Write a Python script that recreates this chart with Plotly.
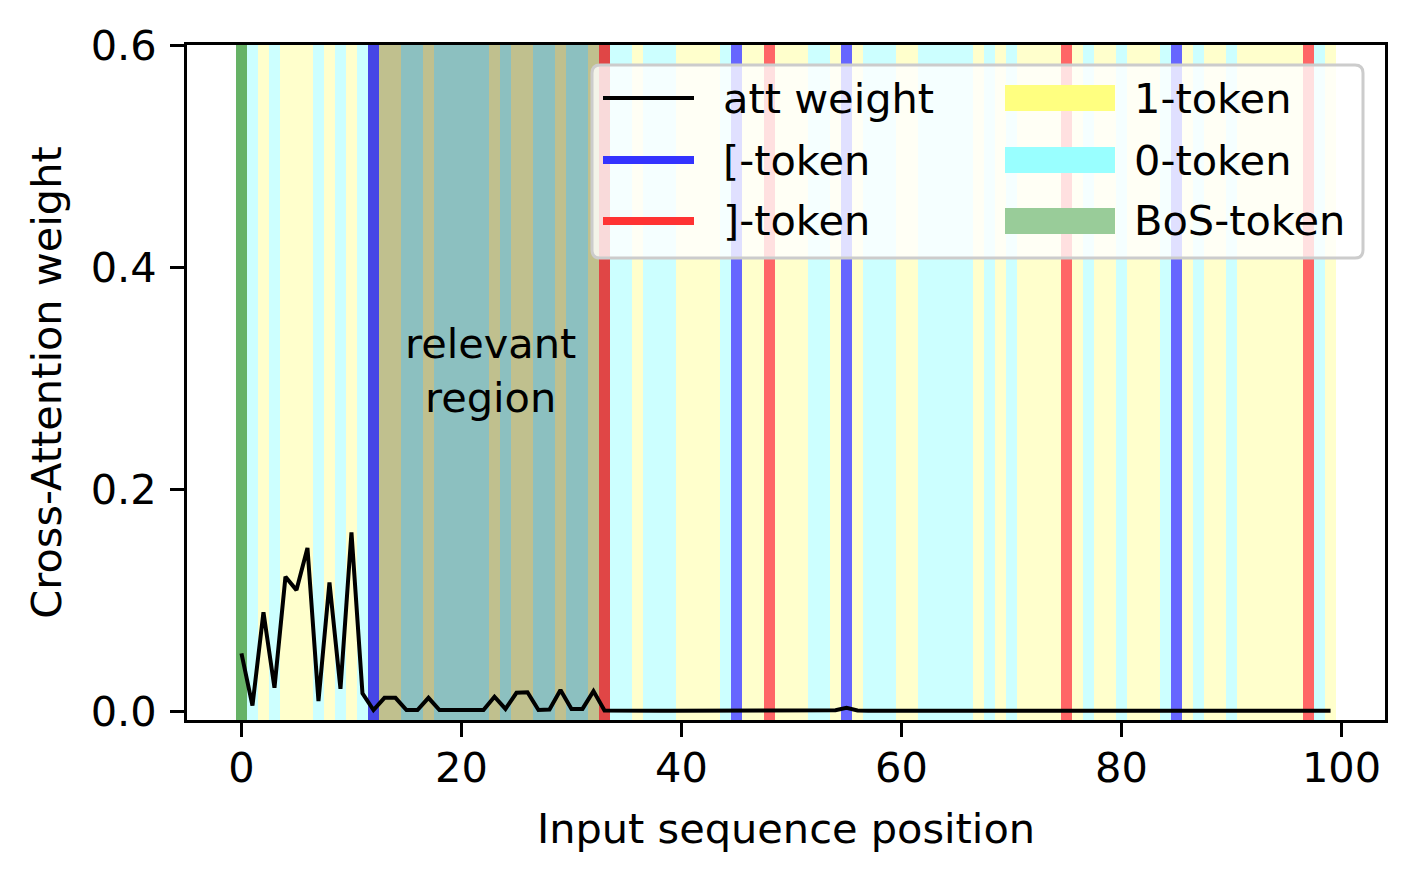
import plotly.graph_objects as go

# ---------------- data ----------------
positions = list(range(100))
tokens = (
    ["B", "0", "1", "0", "1", "1", "1", "0", "1", "0", "1", "0", "[",
     "1", "1", "0", "0", "1", "0", "0", "0", "0", "0", "1", "0", "1", "1",
     "0", "0", "1", "0", "0", "1", "]",
     "0", "0", "1", "0", "0", "0", "1", "1", "1", "1", "0", "[", "1", "1", "]",
     "1", "1", "1", "0", "0", "1", "[", "1", "0", "0", "0", "1", "1",
     "0", "0", "0", "0", "0", "1", "0", "1", "0", "1", "1", "1", "1", "]",
     "1", "0", "1", "1", "0", "1", "1", "1", "0", "[", "1", "0", "1", "1", "0",
     "1", "1", "1", "1", "1", "1", "]", "0", "1"]
)
att_weight = [
    0.052, 0.005, 0.089, 0.021, 0.121, 0.109, 0.147, 0.009, 0.116, 0.020,
    0.161, 0.016, 0.001, 0.012, 0.012, 0.001, 0.001, 0.012, 0.001, 0.001,
    0.001, 0.0015, 0.001, 0.013, 0.002, 0.0165, 0.017, 0.001, 0.0015, 0.019,
    0.002, 0.002, 0.018, 0.0005, 0.0003, 0.0003, 0.0003, 0.0003, 0.0003, 0.0003,
    0.0003, 0.0003, 0.0003, 0.0003, 0.0004, 0.0012, 0.0004, 0.0004, 0.0012, 0.0004,
    0.0003, 0.0003, 0.0003, 0.0004, 0.0008, 0.003, 0.0005, 0.0003, 0.0003, 0.0003,
    0.0003, 0.0003, 0.0003, 0.0003, 0.0003, 0.0003, 0.0003, 0.0003, 0.0003, 0.0003,
    0.0003, 0.0003, 0.0003, 0.0003, 0.0003, 0.0003, 0.0003, 0.0003, 0.0003, 0.0003,
    0.0003, 0.0003, 0.0003, 0.0003, 0.0003, 0.0003, 0.0003, 0.0003, 0.0003, 0.0003,
    0.0003, 0.0003, 0.0003, 0.0003, 0.0003, 0.0003, 0.0003, 0.0003, 0.0003, 0.0003,
]
region_start, region_end = 11.9, 33.0
region_label = "relevant<br>region"
region_label_x, region_label_y = 22.6, 0.307

x_ticks = [0, 20, 40, 60, 80, 100]
y_ticks = [0.0, 0.2, 0.4, 0.6]
y_tick_text = ["0.0", "0.2", "0.4", "0.6"]
x_range = [-4.95, 103.95]
y_range = [-0.008, 0.6]

legend_lines = [("att weight", "black", 4.2), ("[-token", "#3333FF", 8), ("]-token", "#FF3333", 8)]
legend_patches = [("1-token", "#FFFF80"), ("0-token", "#99FFFF"), ("BoS-token", "#99CC99")]

# ---------------- styles ----------------
base_colors = {"B": "#66B266", "0": "#CCFFFF", "1": "#FFFFCC", "[": "#6666FF", "]": "#FF6666"}
region_colors = {"B": "#4C9A4C", "0": "#8CC0C0", "1": "#C0C08E", "[": "#4646E6", "]": "#E04646"}

FONT = "DejaVu Sans"
FS = 41.5

# page has an 8px body margin; the figure is sized so it fits the window
FIG_W, FIG_H = 1406, 873
ML, MT, MR, MB = 179, 37, 29, 161

bar_colors = []
for p, t in zip(positions, tokens):
    if region_start <= p <= region_end:
        bar_colors.append(region_colors[t])
    else:
        bar_colors.append(base_colors[t])

fig = go.Figure()
fig.add_trace(go.Bar(
    x=positions,
    y=[y_range[1] - y_range[0]] * len(positions),
    base=y_range[0],
    width=1.0,
    marker=dict(color=bar_colors, line=dict(width=0)),
    showlegend=False,
    hoverinfo="skip",
))
fig.add_trace(go.Scatter(
    x=positions, y=att_weight, mode="lines",
    line=dict(color="black", width=4),
    showlegend=False, name="att weight",
))

fig.add_annotation(x=region_label_x, y=region_label_y, text=region_label,
                   showarrow=False, font=dict(family=FONT, size=FS, color="black"),
                   xanchor="center", yanchor="middle", align="center")

# ---------------- manual legend (positions in reference-image pixels) ----------------
W = FIG_W - ML - MR
H = FIG_H - MT - MB
def px(xpix):
    return (xpix - (ML + 8)) / W
def py(ypix):
    return 1 - (ypix - (MT + 8)) / H

x0, x1, y0, y1 = px(592), px(1363), py(258), py(65)
rx, ry = 8 / W, 8 / H
path = (f"M {x0+rx},{y0} L {x1-rx},{y0} Q {x1},{y0} {x1},{y0+ry} "
        f"L {x1},{y1-ry} Q {x1},{y1} {x1-rx},{y1} L {x0+rx},{y1} "
        f"Q {x0},{y1} {x0},{y1-ry} L {x0},{y0+ry} Q {x0},{y0} {x0+rx},{y0} Z")
shapes = [dict(type="path", path=path, xref="paper", yref="paper",
               fillcolor="rgba(255,255,255,0.8)", line=dict(color="#CCCCCC", width=3), layer="above")]
rows = [98, 160, 221]
annotations = []
for (lab, col, lw), r in zip(legend_lines, rows):
    shapes.append(dict(type="line", xref="paper", yref="paper", x0=px(603), x1=px(694),
                       y0=py(r), y1=py(r), line=dict(color=col, width=lw), layer="above"))
    annotations.append(dict(x=px(721), y=py(r), xref="paper", yref="paper", text=lab,
                            showarrow=False, xanchor="left", yanchor="middle",
                            font=dict(family=FONT, size=FS, color="black")))
for (lab, col), r in zip(legend_patches, rows):
    shapes.append(dict(type="rect", xref="paper", yref="paper", x0=px(1005), x1=px(1115),
                       y0=py(r + 13), y1=py(r - 13), fillcolor=col, line=dict(width=0), layer="above"))
    annotations.append(dict(x=px(1132), y=py(r), xref="paper", yref="paper", text=lab,
                            showarrow=False, xanchor="left", yanchor="middle",
                            font=dict(family=FONT, size=FS, color="black")))
for a in annotations:
    fig.add_annotation(**a)

fig.update_layout(
    width=FIG_W, height=FIG_H,
    margin=dict(l=ML, r=MR, t=MT, b=MB, autoexpand=False),
    paper_bgcolor="white", plot_bgcolor="white",
    barmode="overlay", bargap=0,
    font=dict(family=FONT, size=FS, color="black"),
    shapes=shapes,
    showlegend=False,
)
fig.update_xaxes(
    range=x_range, tickvals=x_ticks, ticks="outside", ticklen=14, tickwidth=3,
    tickcolor="black", showline=True, linecolor="black", linewidth=3, mirror=True,
    showgrid=False, zeroline=False, tickfont=dict(family=FONT, size=FS),
    ticklabelstandoff=-5,
    title=dict(text="Input sequence position", font=dict(family=FONT, size=FS), standoff=24),
)
fig.update_yaxes(
    range=y_range, tickvals=y_ticks, ticktext=y_tick_text, ticks="outside", ticklen=14,
    tickwidth=3, tickcolor="black", showline=True, linecolor="black", linewidth=3,
    mirror=True, showgrid=False, zeroline=False, tickfont=dict(family=FONT, size=FS),
    ticklabelstandoff=5,
    title=dict(text="Cross-Attention weight", font=dict(family=FONT, size=FS), standoff=17),
)

fig.write_html("out.html")
